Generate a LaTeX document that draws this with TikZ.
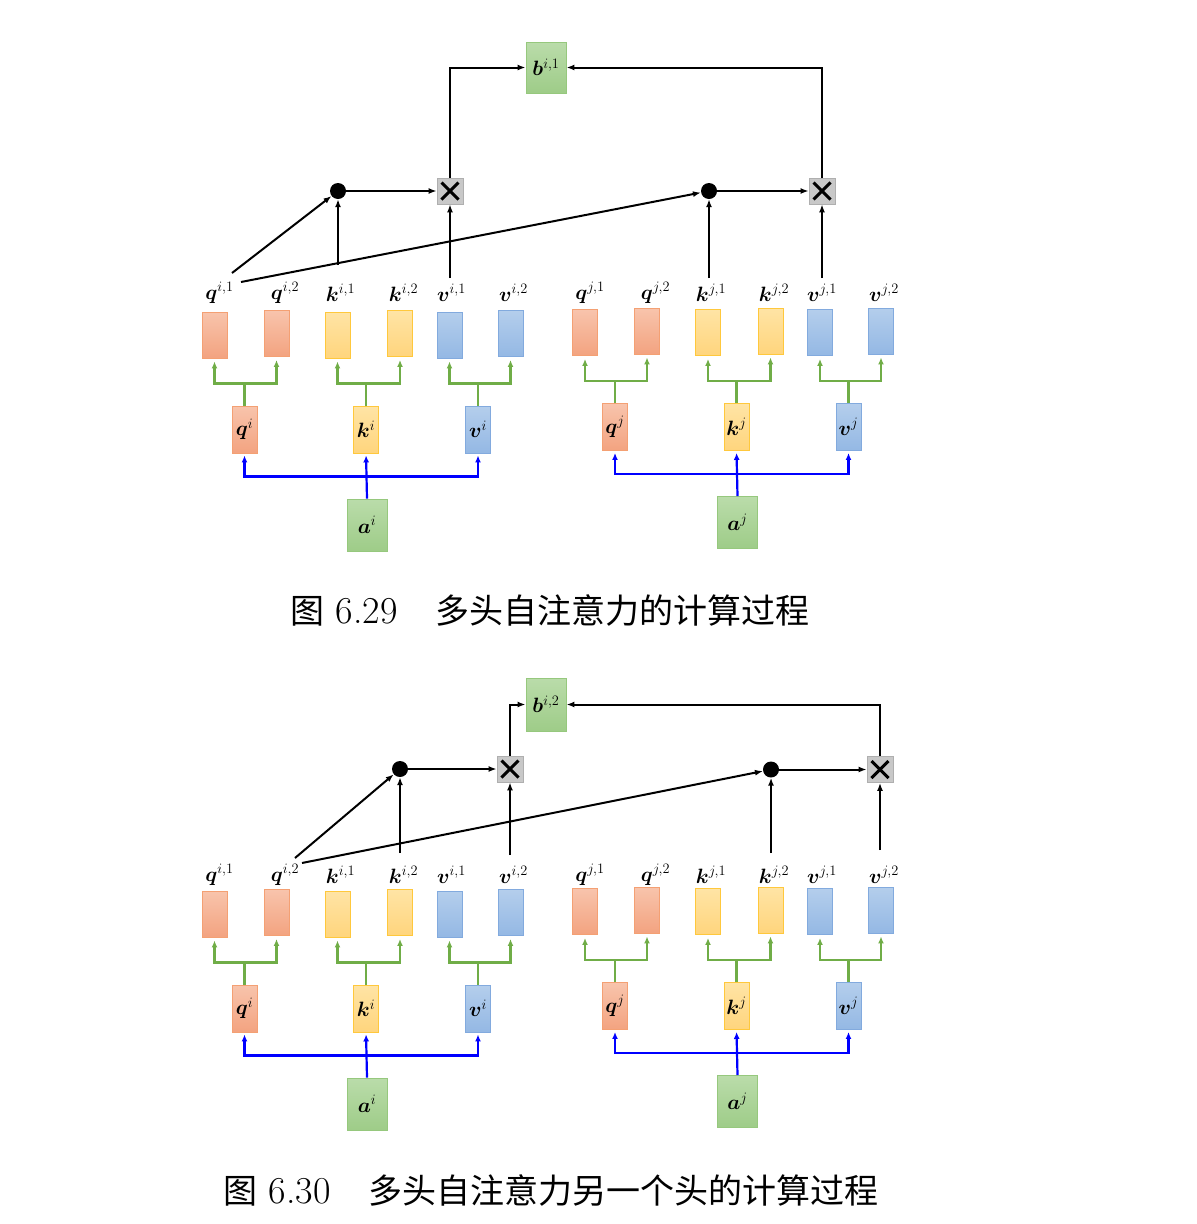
\documentclass[tikz,border=0pt]{standalone}
\usepackage{fontspec}
\usepackage{bm}
\newfontfamily\cjk{Noto Sans CJK SC}
\usetikzlibrary{arrows.meta}
\definecolor{qtop}{RGB}{248,196,172}
\definecolor{qbot}{RGB}{243,163,128}
\definecolor{qdraw}{RGB}{244,160,115}
\definecolor{ktop}{RGB}{255,228,165}
\definecolor{kbot}{RGB}{255,213,125}
\definecolor{kdraw}{RGB}{255,200,60}
\definecolor{vtop}{RGB}{180,206,236}
\definecolor{vbot}{RGB}{148,184,228}
\definecolor{vdraw}{RGB}{130,170,222}
\definecolor{gtop}{RGB}{186,220,170}
\definecolor{gbot}{RGB}{158,204,136}
\definecolor{gdraw}{RGB}{150,200,125}
\definecolor{forkc}{RGB}{112,173,71}
\definecolor{xfill}{RGB}{200,200,200}
\definecolor{xdraw}{RGB}{175,175,175}
\newcommand\lfont{\fontsize{22}{24}\selectfont}
\tikzset{
  boxb/.style={rectangle, inner sep=0pt, line width=0.9pt, font=\lfont},
  qb/.style={boxb, top color=qtop, bottom color=qbot, draw=qdraw},
  kb/.style={boxb, top color=ktop, bottom color=kbot, draw=kdraw},
  vb/.style={boxb, top color=vtop, bottom color=vbot, draw=vdraw},
  gb/.style={boxb, top color=gtop, bottom color=gbot, draw=gdraw},
  smallb/.style={minimum width=25pt, minimum height=46pt},
  midb/.style={minimum width=25pt, minimum height=47pt},
  bigb/.style={minimum width=40pt, minimum height=52pt},
  lab/.style={inner sep=0pt, font=\lfont},
  dotn/.style={circle, fill=black, minimum size=16pt, inner sep=0pt},
  xbox/.style={rectangle, minimum size=26pt, inner sep=0pt, fill=xfill, draw=xdraw, line width=0.8pt,
    path picture={
      \draw[black, line width=3pt] ([shift={(4.5pt,4.5pt)}]path picture bounding box.south west) -- ([shift={(-4.5pt,-4.5pt)}]path picture bounding box.north east);
      \draw[black, line width=3pt] ([shift={(4.5pt,-4.5pt)}]path picture bounding box.north west) -- ([shift={(-4.5pt,4.5pt)}]path picture bounding box.south east);
    }},
  arr/.style={line width=2pt, -{Latex[length=8pt,width=6pt]}},
  gline/.style={draw=forkc, line width=2.2pt},
  garr/.style={draw=forkc, line width=2.2pt, -{Latex[length=7pt,width=6pt]}, shorten >=3pt},
  barr/.style={draw=blue, line width=2.2pt, -{Latex[length=7pt,width=6pt]}, shorten >=2pt},
  captext/.style={inner sep=0pt, font=\fontsize{38}{44}\selectfont}
}
\newcommand\cj[1]{{\fontsize{34}{40}\selectfont\cjk #1}}
% #1 prefix, #2 dx, #3 dy, #4 letter, #5 label y
\newcommand\qkvgroup[5]{%
\begin{scope}[shift={(#2,#3)}]
\node[qb,smallb] (#1q1) at (214.5,335) {};
\node[qb,smallb] (#1q2) at (276.5,333.5) {};
\node[kb,smallb] (#1k1) at (337.5,335) {};
\node[kb,smallb] (#1k2) at (400,333.5) {};
\node[vb,smallb] (#1v1) at (449.5,335) {};
\node[vb,smallb] (#1v2) at (510.5,333.5) {};
\node[qb,midb] (#1q) at (244.5,429.5) {$\bm{q}^{#4}$};
\node[kb,midb] (#1k) at (366,429.5) {$\bm{k}^{#4}$};
\node[vb,midb] (#1v) at (478,429.5) {$\bm{v}^{#4}$};
\node[gb,bigb] (#1a) at (367,525) {$\bm{a}^{#4}$};
\node[lab] (#1lq1) at (219.5,#5) {$\bm{q}^{#4,1}$};
\node[lab] (#1lq2) at (285,#5) {$\bm{q}^{#4,2}$};
\node[lab] (#1lk1) at (340.5,#5) {$\bm{k}^{#4,1}$};
\node[lab] (#1lk2) at (403.5,#5) {$\bm{k}^{#4,2}$};
\node[lab] (#1lv1) at (451.5,#5) {$\bm{v}^{#4,1}$};
\node[lab] (#1lv2) at (513.5,#5) {$\bm{v}^{#4,2}$};
\draw[gline] (#1q.north) -- ++(0,-22);
\draw[garr] (#1q.north) ++(0,-22) -| (#1q1.south);
\draw[garr] (#1q.north) ++(0,-22) -| (#1q2.south);
\draw[gline] (#1k.north) -- ++(0,-22);
\draw[garr] (#1k.north) ++(0,-22) -| (#1k1.south);
\draw[garr] (#1k.north) ++(0,-22) -| (#1k2.south);
\draw[gline] (#1v.north) -- ++(0,-22);
\draw[garr] (#1v.north) ++(0,-22) -| (#1v1.south);
\draw[garr] (#1v.north) ++(0,-22) -| (#1v2.south);
\draw[barr] (#1a.north) -- (#1k.south);
\draw[barr] (#1a.north) ++(0,-22) -| (#1q.south);
\draw[barr] (#1a.north) ++(0,-22) -| (#1v.south);
\end{scope}}
\begin{document}
\begin{tikzpicture}[x=1pt,y=-1pt]
\useasboundingbox (0,0) rectangle (1197,1224);
% ---------- Figure 6.29 ----------
\qkvgroup{ti}{0}{0}{i}{293}
\qkvgroup{tj}{370.5}{-2.5}{j}{295.5}
\node[gb,minimum width=40pt,minimum height=51pt] (tb) at (546,67.5) {$\bm{b}^{i,1}$};
\node[dotn] (td1) at (338,191) {};
\node[xbox] (tx1) at (450,191) {};
\node[dotn] (td2) at (709,191) {};
\node[xbox] (tx2) at (822,191) {};
\coordinate (ts1) at (232,273);
\coordinate (ts2) at (241,282);
\coordinate (ts3) at (338,265);
\coordinate (ts4) at (450,278);
\coordinate (ts5) at (709,278);
\coordinate (ts6) at (822,278);
\draw[arr] (ts1) -- (td1);
\draw[arr] (ts2) -- (td2);
\draw[arr] (ts3) -- (td1);
\draw[arr] (ts4) -- (tx1);
\draw[arr] (ts5) -- (td2);
\draw[arr] (ts6) -- (tx2);
\draw[arr] (td1) -- (tx1);
\draw[arr] (td2) -- (tx2);
\draw[arr] (tx1.north) |- (tb.west);
\draw[arr] (tx2.north) |- (tb.east);
\node[captext] (cap1) at (550,610) {\cj{图} 6.29\quad\cj{多头自注意力的计算过程}};
% ---------- Figure 6.30 ----------
\qkvgroup{bi}{0}{579}{i}{296}
\qkvgroup{bj}{370.5}{576.5}{j}{298.5}
\node[gb,minimum width=40pt,minimum height=53pt] (bb) at (546,704.5) {$\bm{b}^{i,2}$};
\node[dotn] (bd1) at (400,769) {};
\node[xbox] (bx1) at (510,769) {};
\node[dotn] (bd2) at (771,769.5) {};
\node[xbox] (bx2) at (880,769.5) {};
\coordinate (bs1) at (295,858);
\coordinate (bs2) at (302,863);
\coordinate (bs3) at (400,853);
\coordinate (bs4) at (510,855);
\coordinate (bs5) at (771,853);
\coordinate (bs6) at (880,850);
\draw[arr] (bs1) -- (bd1);
\draw[arr] (bs2) -- (bd2);
\draw[arr] (bs3) -- (bd1);
\draw[arr] (bs4) -- (bx1);
\draw[arr] (bs5) -- (bd2);
\draw[arr] (bs6) -- (bx2);
\draw[arr] (bd1) -- (bx1);
\draw[arr] (bd2) -- (bx2);
\draw[arr] (bx1.north) |- (bb.west);
\draw[arr] (bx2.north) |- (bb.east);
\node[captext] (cap2) at (551,1190) {\cj{图} 6.30\quad\cj{多头自注意力另一个头的计算过程}};
\end{tikzpicture}
\end{document}
